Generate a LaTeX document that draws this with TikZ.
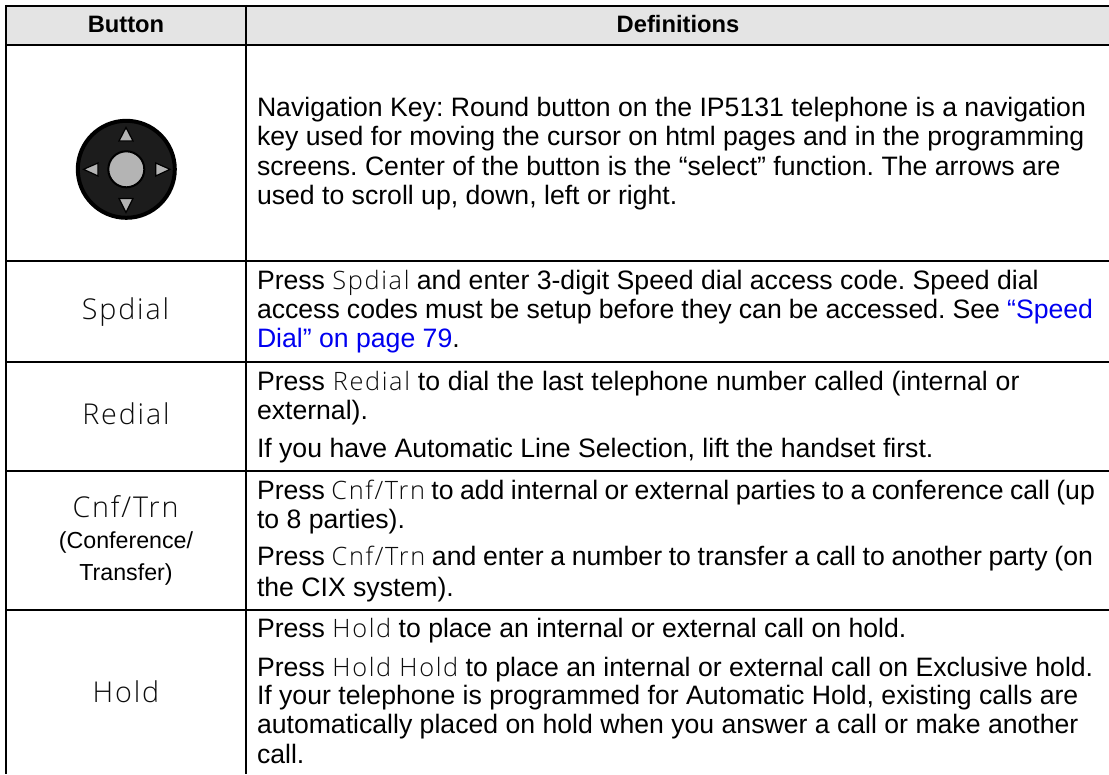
\documentclass[tikz,border=0pt]{standalone}
\usepackage{fontspec}
\setmainfont{Liberation Sans}
\newfontfamily\keyfont[LetterSpace=6.5]{Open Sans Light}
\frenchspacing
\definecolor{keygray}{gray}{0.05}
\definecolor{headfill}{HTML}{E4E4E4}
\definecolor{btngray}{HTML}{B4B4B4}
\definecolor{btndark}{HTML}{1C1C1C}
\definecolor{linkblue}{HTML}{0000F0}
\newcommand{\kk}[1]{{\fontsize{19pt}{19pt}\keyfont\color{keygray}#1}}
\newcommand{\blue}[1]{{\color{linkblue}#1}}
\newcommand{\wordgap}[1]{\spaceskip=#1pt\relax}
\tikzset{
  x=0.75pt,y=-0.75pt,
  rule/.style={line width=1.5pt,black},
  body/.style={anchor=base west,inner sep=0pt,outer sep=0pt,yshift=-0.5pt,font=\fontsize{19.97pt}{20pt}\selectfont},
  keylabel/.style={anchor=base,inner sep=0pt,outer sep=0pt,yshift=-1pt,font=\fontsize{21.5pt}{21.5pt}\selectfont\keyfont,text=keygray},
  sublabel/.style={anchor=base,inner sep=0pt,outer sep=0pt,yshift=-0.5pt,font=\fontsize{17.4pt}{17.4pt}\selectfont},
  head/.style={anchor=base,inner sep=0pt,outer sep=0pt,yshift=-0.4pt,font=\fontsize{17.8pt}{17.8pt}\selectfont\bfseries},
  tri/.style={fill=btngray,draw=black,line width=0.9pt,line join=miter},
}
\begin{document}
\begin{tikzpicture}
\useasboundingbox (0,0) rectangle (1109,774);
\fill[white] (0,0) rectangle (1109,774);
\fill[headfill] (6,6) rectangle (1109,45.5);
% rules
\draw[rule] (6,6) -- (1109,6);
\draw[rule] (6,45.5) -- (1109,45.5);
\draw[rule] (6,260.5) -- (1109,260.5);
\draw[rule] (6,362) -- (1109,362);
\draw[rule] (6,470.5) -- (1109,470.5);
\draw[rule] (6,609.5) -- (1109,609.5);
\draw[rule] (6,5) -- (6,774);
\draw[rule] (246,5) -- (246,774);
% header
\node[head] (h1) at (126,32) {Button};
\node[head] (h2) at (678,32) {Definitions};
% navigation key
\fill[btndark,draw=black,line width=3pt] (126.3,169.3) circle [radius=48.5];
\draw[fill=btngray,draw=black,line width=1.5pt] (126.3,169.3) circle [radius=18];
\draw[tri] (126,127.5) -- (133,141) -- (119,141) -- cycle;
\draw[tri] (126,212.5) -- (133,198.5) -- (119,198.5) -- cycle;
\draw[tri] (83.5,169.3) -- (98,163) -- (98,176) -- cycle;
\draw[tri] (170,169.3) -- (155.7,163) -- (155.7,176) -- cycle;
% left column
\node[keylabel] (k1) at (125.5,317.7) {Spdial};
\node[keylabel] (k2) at (126,423) {Redial};
\node[keylabel] (k3) at (125.5,515.7) {Cnf/Trn};
\node[sublabel] (k3a) at (126,548) {(Conference/};
\node[sublabel] (k3b) at (126,580) {Transfer)};
\node[keylabel] (k4) at (126,701) {Hold};
% right column
\node[body] (a1) at (257,116) {Navigation Key: Round button on the IP5131 telephone is a navigation};
\node[body] (a2) at (257,145) {key used for moving the cursor on html pages and in the programming};
\node[body] (a3) at (257,174.7) {screens. Center of the button is the “select” function. The arrows are};
\node[body] (a4) at (257,204) {used to scroll up, down, left or right.};
\node[body] (b1) at (257,289) {Press \kk{Spdial} and enter 3-digit Speed dial access code. Speed dial};
\node[body] (b2) at (257,317.7) {\wordgap{5.33}access codes must be setup before they can be accessed. See \blue{“Speed}};
\node[body] (b3) at (257,347) {\blue{Dial” on page 79}.};
\node[body] (c1) at (257,389.7) {\wordgap{5.89}Press \kk{Redial} to dial the last telephone number called (internal or};
\node[body] (c2) at (257,419) {external).};
\node[body] (c3) at (257,456.7) {If you have Automatic Line Selection, lift the handset first.};
\node[body] (d1) at (257,499.3) {\wordgap{4.8}Press \kk{Cnf/Trn} to add internal or external parties to a conference call (up};
\node[body] (d2) at (257,528) {to 8 parties).};
\node[body] (d3) at (257,565) {\wordgap{5.0}Press \kk{Cnf/Trn} and enter a number to transfer a call to another party (on};
\node[body] (d4) at (257,596) {the CIX system).};
\node[body] (e1) at (257,637.3) {Press \kk{Hold} to place an internal or external call on hold.};
\node[body] (e2) at (257,676) {Press \kk{Hold Hold} to place an internal or external call on Exclusive hold.};
\node[body] (e3) at (257,704.3) {If your telephone is programmed for Automatic Hold, existing calls are};
\node[body] (e4) at (257,733) {automatically placed on hold when you answer a call or make another};
\node[body] (e5) at (257,763) {call.};
\end{tikzpicture}
\end{document}
